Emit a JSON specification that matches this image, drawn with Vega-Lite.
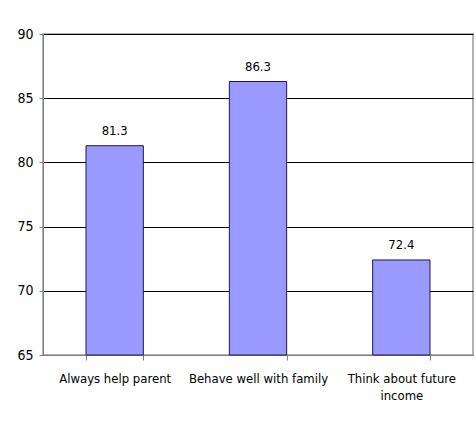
{
  "$schema": "https://vega.github.io/schema/vega-lite/v6.json",
  "width": 430,
  "height": 321,
  "autosize": {"type": "none"},
  "padding": {"left": 43, "top": 34, "right": 3, "bottom": 75},
  "background": "white",
  "data": {"values": [
    {"category": "Always help parent", "value": 81.3},
    {"category": "Behave well with family", "value": 86.3},
    {"category": "Think about future income", "value": 72.4}
  ]},
  "encoding": {
    "x": {"field": "category", "type": "nominal", "sort": null,
      "scale": {"paddingInner": 0.6, "paddingOuter": 0.3},
      "axis": {"title": null, "labelAngle": 0, "labelFont": "DejaVu Sans Condensed", "labelFontSize": 13, "labelColor": "black",
        "labelExpr": "datum.label == 'Think about future income' ? ['Think about future', 'income'] : datum.label",
        "labelLineHeight": 17, "labelPadding": 12, "labelLimit": 200,
        "tickBand": "extent", "tickSize": 5, "tickColor": "#808080", "domainColor": "#808080", "grid": false}},
    "y": {"field": "value", "type": "quantitative", "scale": {"domain": [65, 90], "zero": false, "nice": false},
      "axis": {"title": null, "values": [65, 70, 75, 80, 85, 90], "labelFont": "DejaVu Sans Condensed", "labelFontSize": 14, "labelColor": "black",
        "labelPadding": 6, "tickSize": 4, "tickColor": "#808080", "domainColor": "#808080",
        "grid": true, "gridColor": "#000000", "gridOpacity": 1, "gridWidth": 1}}
  },
  "layer": [
    {"mark": {"type": "bar", "color": "#9999FF", "stroke": "#1a1a4d", "strokeWidth": 1}, "encoding": {"y2": {"datum": 65}}},
    {"mark": {"type": "text", "baseline": "bottom", "dy": -8, "font": "DejaVu Sans Condensed", "fontSize": 13, "color": "black"},
      "encoding": {"text": {"field": "value", "type": "quantitative", "format": ".1f"}}}
  ],
  "config": {"view": {"stroke": "#999999", "strokeWidth": 1.5}}
}
